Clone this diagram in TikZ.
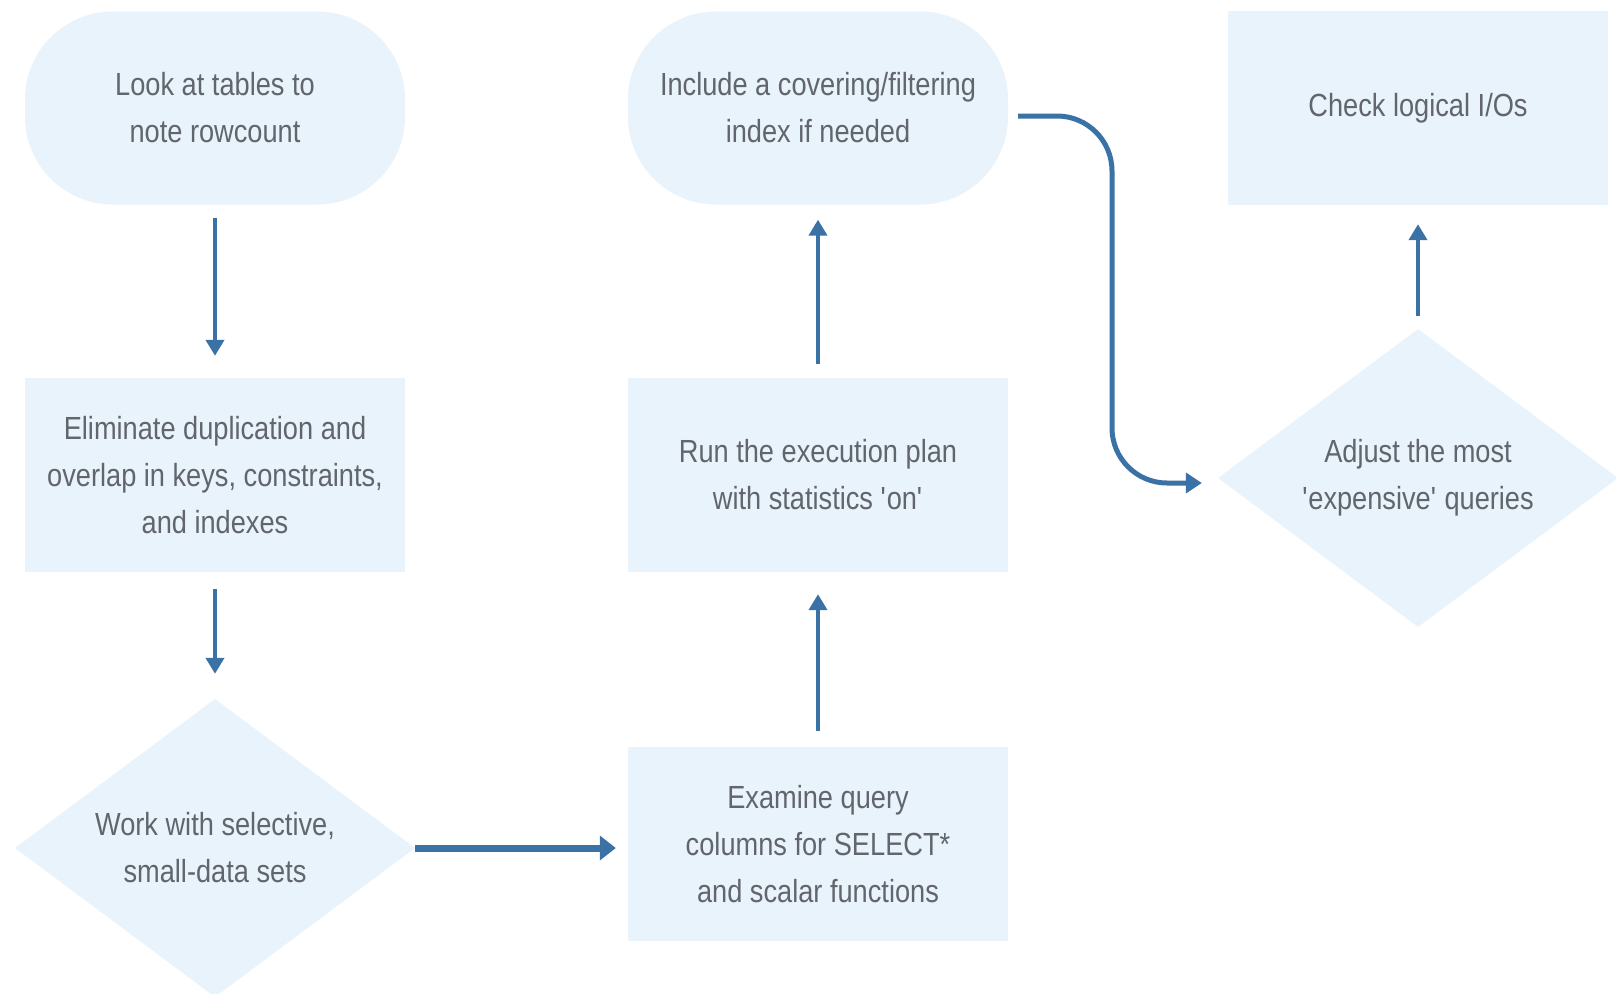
\documentclass[tikz,border=0pt]{standalone}
\usepackage{fontspec}
\setmainfont{Liberation Sans}[FakeStretch=0.85]
\usetikzlibrary{shapes.geometric,arrows.meta}
\definecolor{boxfill}{HTML}{E8F3FB}
\definecolor{arrowblue}{HTML}{3B72A6}
\definecolor{txtgray}{HTML}{62666C}
\tikzset{
  base/.style={fill=boxfill, draw=none, inner sep=0pt, align=center,
    text=txtgray, font=\fontsize{32}{47}\selectfont},
  stadium/.style={base, rectangle, rounded corners=88pt, minimum width=380pt, minimum height=193pt},
  stepbox/.style={base, rectangle, minimum width=380pt, minimum height=194pt},
  decision/.style={base, diamond, aspect=1.33, minimum width=400pt, minimum height=298pt},
  arr/.style={draw=arrowblue, line width=4pt, -{Triangle[length=16pt,width=18pt]}},
  thickarr/.style={draw=arrowblue, line width=7pt, -{Triangle[length=16pt,width=24pt]}}
}
\begin{document}
\begin{tikzpicture}[x=1pt,y=-1pt]
\useasboundingbox[fill=white] (0,0) rectangle (1616,993);

\node[stadium]  (n1) at (215,108) {Look at tables to\\note rowcount};
\node[stepbox]  (n2) at (215,475) {Eliminate duplication and\\overlap in keys, constraints,\\and indexes};
\node[decision] (n3) at (215,848) {Work with selective,\\small-data sets};
\node[stepbox]  (n4) at (818,844) {Examine query\\columns for SELECT*\\and scalar functions};
\node[stepbox]  (n5) at (818,475) {Run the execution plan\\with statistics \textquotesingle on\textquotesingle};
\node[stadium]  (n6) at (818,108) {Include a covering/filtering\\index if needed};
\node[decision] (n7) at (1418,478) {Adjust the most\\\textquotesingle expensive\textquotesingle\ queries};
\node[stepbox]  (n8) at (1418,108) {Check logical I/Os};

\draw[arr, shorten <=13pt, shorten >=22pt] (n1) -- (n2);
\draw[arr, shorten <=17pt, shorten >=25pt] (n2) -- (n3);
\draw[thickarr, shorten >=12pt] (n3.east) -- (n3.east -| n4.west);
\draw[arr, shorten <=16pt, shorten >=22pt] (n4) -- (n5);
\draw[arr, shorten <=14pt, shorten >=15pt] (n5) -- (n6);
\draw[arr, shorten <=13pt, shorten >=19pt] (n7) -- (n8);

\coordinate (bend) at (1112,300);
\draw[draw=arrowblue, line width=5pt, rounded corners=55pt, -{Triangle[length=16pt,width=20pt]}]
  ([xshift=10pt,yshift=-8pt]n6.east) -| (bend) |- ([xshift=-16pt,yshift=-5pt]n7.west);
\end{tikzpicture}
\end{document}
